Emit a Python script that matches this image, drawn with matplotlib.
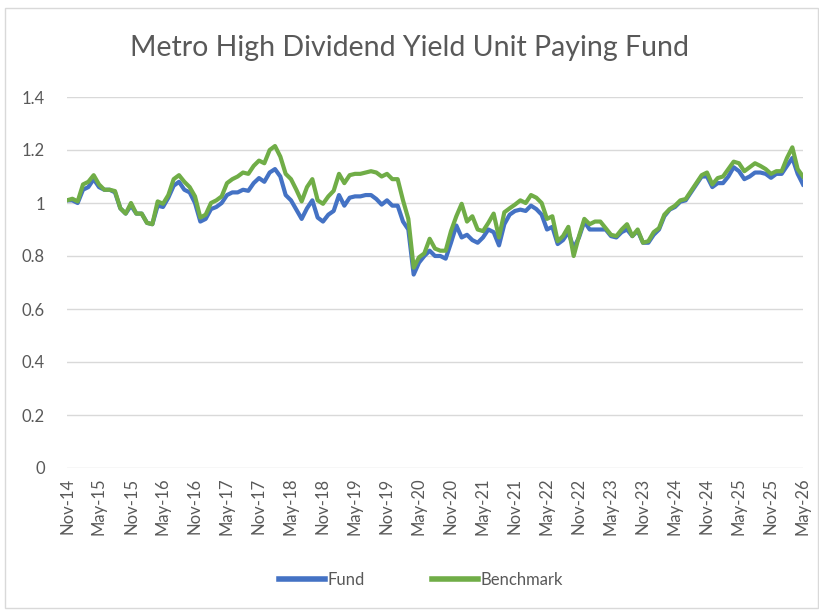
import numpy as np
import pandas as pd
import matplotlib
matplotlib.use("Agg")
import matplotlib.pyplot as plt
from matplotlib.patches import Rectangle

# ========================
#  Data (monthly, Nov-14 .. May-26)
# ========================
months = pd.date_range("2014-11-01", periods=139, freq="MS")
month_labels = [d.strftime("%b-%y") for d in months]

fund = [
    1.01, 1.01, 1.00, 1.05, 1.06, 1.09, 1.06, 1.05, 1.05, 1.04,
    0.98, 0.96, 0.99, 0.96, 0.96, 0.925, 0.92, 0.99, 0.985, 1.02,
    1.065, 1.08, 1.05, 1.04, 1.00, 0.93, 0.94, 0.977, 0.985, 1.00,
    1.03, 1.04, 1.04, 1.05, 1.046, 1.075, 1.094, 1.08, 1.115, 1.128,
    1.10, 1.03, 1.01, 0.975, 0.94, 0.98, 1.01, 0.945, 0.93, 0.956,
    0.97, 1.03, 0.99, 1.02, 1.025, 1.025, 1.03, 1.03, 1.015, 0.994,
    1.01, 0.99, 0.99, 0.93, 0.90, 0.73, 0.775, 0.80, 0.82, 0.80,
    0.80, 0.79, 0.85, 0.915, 0.87, 0.88, 0.86, 0.85, 0.87, 0.90,
    0.89, 0.84, 0.92, 0.956, 0.97, 0.975, 0.97, 0.99, 0.977, 0.956,
    0.90, 0.91, 0.845, 0.86, 0.89, 0.83, 0.87, 0.93, 0.90, 0.90,
    0.90, 0.90, 0.875, 0.87, 0.89, 0.90, 0.875, 0.895, 0.85, 0.85,
    0.88, 0.90, 0.95, 0.975, 0.985, 1.005, 1.01, 1.04, 1.07, 1.10,
    1.10, 1.06, 1.075, 1.075, 1.10, 1.135, 1.12, 1.09, 1.10, 1.115,
    1.115, 1.11, 1.095, 1.11, 1.11, 1.14, 1.17, 1.11, 1.07,
]

benchmark = [
    1.01, 1.016, 1.006, 1.07, 1.08, 1.105, 1.07, 1.05, 1.05, 1.045,
    0.98, 0.96, 1.00, 0.96, 0.96, 0.925, 0.92, 1.006, 0.997, 1.03,
    1.09, 1.105, 1.08, 1.06, 1.025, 0.945, 0.956, 1.00, 1.01, 1.025,
    1.075, 1.09, 1.10, 1.115, 1.11, 1.14, 1.16, 1.15, 1.20, 1.215,
    1.175, 1.11, 1.09, 1.05, 1.006, 1.06, 1.09, 1.01, 0.997, 1.025,
    1.046, 1.11, 1.075, 1.105, 1.11, 1.11, 1.115, 1.12, 1.115, 1.10,
    1.11, 1.09, 1.09, 1.01, 0.94, 0.756, 0.795, 0.81, 0.865, 0.828,
    0.82, 0.82, 0.894, 0.95, 0.997, 0.93, 0.95, 0.90, 0.894, 0.925,
    0.96, 0.87, 0.965, 0.98, 0.994, 1.01, 1.00, 1.03, 1.02, 1.00,
    0.94, 0.95, 0.856, 0.875, 0.91, 0.80, 0.875, 0.94, 0.92, 0.93,
    0.93, 0.905, 0.88, 0.875, 0.90, 0.92, 0.875, 0.90, 0.85, 0.856,
    0.89, 0.905, 0.956, 0.977, 0.99, 1.01, 1.015, 1.045, 1.075, 1.105,
    1.115, 1.07, 1.094, 1.10, 1.128, 1.156, 1.15, 1.12, 1.135, 1.15,
    1.14, 1.128, 1.11, 1.12, 1.12, 1.17, 1.21, 1.128, 1.10,
]

y_ticks = [0, 0.2, 0.4, 0.6, 0.8, 1.0, 1.2, 1.4]
y_labels = ["0", "0.2", "0.4", "0.6", "0.8", "1", "1.2", "1.4"]

# ========================
#  Plot
# ========================
plt.rcParams["font.family"] = ["Lato", "DejaVu Sans"]
txt = "#595959"
grid = "#d9d9d9"

fig = plt.figure(figsize=(8.2, 6.1), dpi=100)
fig.patches.append(Rectangle((5 / 820, 2 / 610), 813 / 820, 600 / 610,
                             transform=fig.transFigure, fill=False,
                             edgecolor=grid, lw=1))

ax = fig.add_axes([67 / 820, (610 - 468) / 610, (803 - 67) / 820, (468 - 97) / 610])
x = np.arange(len(months))
ax.plot(x, fund, color="#4472C4", lw=3, label="Fund", solid_joinstyle="round")
ax.plot(x, benchmark, color="#70AD47", lw=3, label="Benchmark", solid_joinstyle="round")

ax.set_xlim(0, len(months) - 1)
ax.set_ylim(0, 1.4)
ax.set_yticks(y_ticks)
ax.set_yticklabels(y_labels)
ax.set_xticks(x[::6])
ax.set_xticklabels(month_labels[::6], rotation=90)
ax.tick_params(length=0, colors=txt, labelsize=12)
ax.tick_params(axis="y", pad=16)
ax.tick_params(axis="x", pad=7)
ax.grid(axis="y", color=grid, lw=1)
ax.set_axisbelow(True)
for s in ax.spines.values():
    s.set_visible(False)

fig.text(0.5, 1 - 48 / 610, "Metro High Dividend Yield Unit Paying Fund",
         ha="center", va="center", fontsize=20.5, color=txt)

leg = fig.legend(loc="center", bbox_to_anchor=(421 / 820, 1 - 580 / 610), ncol=2,
                 frameon=False, fontsize=12, handlelength=2.8, columnspacing=4.0,
                 handletextpad=0.15, labelcolor=txt)
for h in leg.get_lines():
    h.set_linewidth(4)

plt.savefig("out.png", dpi=100)
